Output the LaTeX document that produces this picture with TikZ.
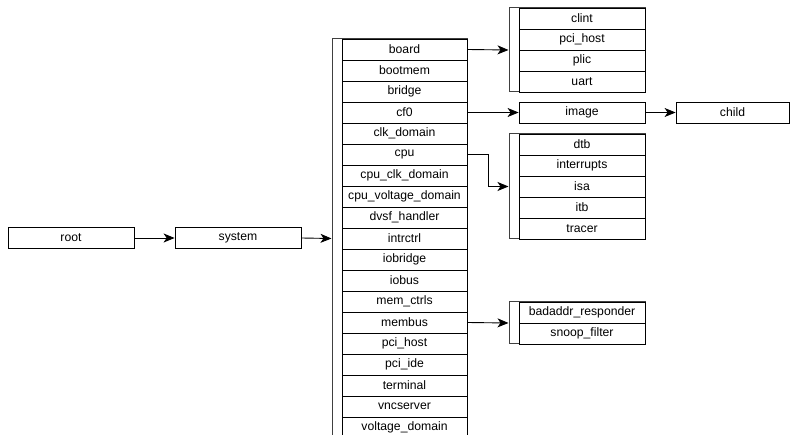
\documentclass[tikz,border=0pt]{standalone}
\usepackage{fontspec}
\setmainfont{Liberation Sans}
\usetikzlibrary{arrows.meta}
\begin{document}
\begin{tikzpicture}[x=1pt,y=-1pt,
  box/.style={draw=black,line width=0.8pt,fill=white,rectangle,inner sep=0pt,
    font=\fontsize{12.2}{14}\selectfont},
  row/.style={box,minimum width=126pt,minimum height=21pt},
  group/.style={draw=black!75,line width=1pt,fill=white,rectangle,inner sep=0pt},
  link/.style={line width=0.9pt,-{Stealth[length=11pt,width=9pt,inset=3pt]}}]
\useasboundingbox (0,0) rectangle (790,435);
\clip (0,0) rectangle (790,435);

% top level
\node[row] (root) at (71,238) {root};
\node[row] (system) at (238,238) {system};

% children of system
\node[group,minimum width=135pt,minimum height=399pt] (sysgrp) at (399.5,238.5) {};
\foreach \name [count=\i from 0] in {board,bootmem,bridge,cf0,clk\_domain,cpu,
    cpu\_clk\_domain,cpu\_voltage\_domain,dvsf\_handler,intrctrl,iobridge,iobus,
    mem\_ctrls,membus,pci\_host,pci\_ide,terminal,vncserver,voltage\_domain}
  \node[row,minimum width=125pt] (s\i) at (404.5,49.5+21*\i) {\name};

% children of board
\node[group,minimum width=136pt,minimum height=84pt] (boardgrp) at (577,50) {};
\foreach \name [count=\i from 0] in {clint,pci\_host,plic,uart}
  \node[row] (b\i) at (582,18.5+21*\i) {\name};

% children of cf0
\node[row] (image) at (582,112.5) {image};
\node[row,minimum width=113pt] (child) at (732.5,112.5) {child};

% children of cpu
\node[group,minimum width=136pt,minimum height=105pt] (cpugrp) at (577,186.5) {};
\foreach \name [count=\i from 0] in {dtb,interrupts,isa,itb,tracer}
  \node[row] (c\i) at (582,144.5+21*\i) {\name};

% children of membus
\node[group,minimum width=136pt,minimum height=42pt] (busgrp) at (577,323) {};
\foreach \name [count=\i from 0] in {badaddr\_responder,snoop\_filter}
  \node[row] (m\i) at (582,312.5+21*\i) {\name};

% connectors
\draw[link] (root.east) -- (system.west);
\draw[link] (system.east) -- (sysgrp.west);
\draw[link] (s0.east) -- (boardgrp.west);
\draw[link] (s3.east) -- (image.west);
\draw[link] (image.east) -- (child.west);
\draw[link] (s5.east) -- ++(21,0) |- (cpugrp.west);
\draw[link] (s13.east) -- (busgrp.west);
\end{tikzpicture}
\end{document}
